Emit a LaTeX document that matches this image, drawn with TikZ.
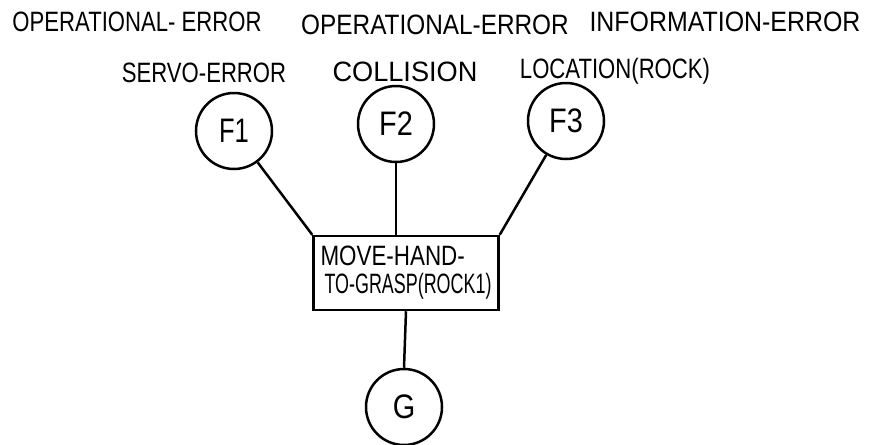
\documentclass[tikz,border=0pt]{standalone}
\usepackage{fontspec}
\setmainfont{Liberation Sans}
\begin{document}
\begin{tikzpicture}[x=0.5pt, y=-0.5pt, line width=1.25pt,
  lbl/.style={font=\fontsize{14}{16}\selectfont, inner sep=0pt},
  state/.style={circle, draw, minimum size=38pt, inner sep=0pt,
    font=\fontsize{17}{19}\selectfont},
  act/.style={rectangle, draw, minimum width=92.5pt, minimum height=37pt,
    inner sep=0pt, align=left, font=\fontsize{14}{14}\selectfont}]
\useasboundingbox (0,0) rectangle (874,445);

% error class headings
\node[lbl] (op1) at (137,22) {\scalebox{0.79}[1]{OPERATIONAL- ERROR}};
\node[lbl] (op2) at (435,25) {\scalebox{0.87}[1]{OPERATIONAL-ERROR}};
\node[lbl] (inf) at (725,22) {\scalebox{0.89}[1]{INFORMATION-ERROR}};

% failure kinds
\node[lbl] (servo) at (204,73) {\scalebox{0.79}[1]{SERVO-ERROR}};
\node[lbl] (coll)  at (405,72) {\scalebox{0.97}[1]{COLLISION}};
\node[lbl] (loc)   at (615,71) {\scalebox{0.79}[1]{LOCATION(ROCK)}};

% failure states
\node[state] (F1) at (234,131) {\scalebox{0.75}[1]{F1}};
\node[state] (F2) at (396,124) {\scalebox{0.85}[1]{F2}};
\node[state] (F3) at (566,121) {\scalebox{0.85}[1]{F3}};

% action
\node[act] (mh) at (406,273)
  {\scalebox{0.8}[1]{MOVE-HAND-}\\\hspace*{2pt}\scalebox{0.64}[1]{TO-GRASP(ROCK1)}};

% goal state
\node[state] (G) at (404,407) {\scalebox{0.85}[1]{G}};

% links
\draw (F1) -- (mh.north west);
\draw (F2.south) -- (F2.south |- mh.north);
\draw (F3) -- (mh.north east);
\draw (mh.south) -- (G.north);
\end{tikzpicture}
\end{document}
